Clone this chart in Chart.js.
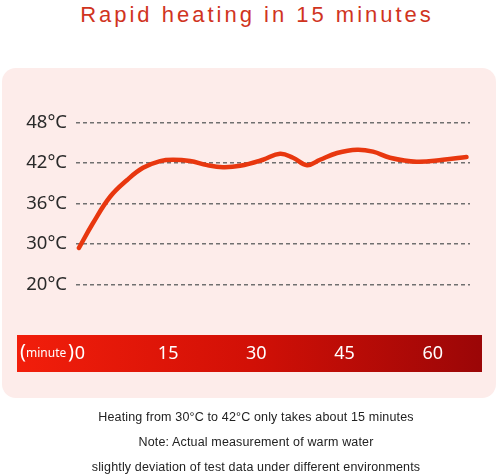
<!DOCTYPE html>
<html>
<head>
<meta charset="utf-8">
<script src="https://cdn.jsdelivr.net/npm/chart.js@4/dist/chart.umd.min.js"></script>
<style>
  html, body { margin: 0; padding: 0; background: #fff; }
  #wrap { position: relative; width: 500px; height: 474px; overflow: hidden; }
  #title {
    position: absolute; left: 0; top: 2px; width: 500px; text-align: center;
    box-sizing: border-box; padding-left: 14px;
    font: 22px "Liberation Sans", Arial, sans-serif; letter-spacing: 3px;
    color: #d0341e;
  }
  #panel {
    position: absolute; left: 2px; top: 68px; width: 494px; height: 330px;
    border-radius: 14px; background: #fdecea;
  }
  #chartCanvas { position: absolute; left: 0; top: 0; }
  .note {
    position: absolute; left: 0; width: 500px; text-align: center;
    box-sizing: border-box; padding-left: 12px;
    font: 12.5px "Liberation Sans", Arial, sans-serif; letter-spacing: 0.15px;
    color: #222;
  }
</style>
</head>
<body>
<div id="wrap">
  <div id="title">Rapid heating in 15 minutes</div>
  <div id="panel"></div>
  <canvas id="chartCanvas" width="500" height="474"></canvas>
  <div class="note" style="top:410px">Heating from 30°C to 42°C only takes about 15 minutes</div>
  <div class="note" style="top:435px">Note: Actual measurement of warm water</div>
  <div class="note" style="top:460px">slightly deviation of test data under different environments</div>
</div>
<script>
// ===============================
// 1. 数据
// ===============================
const minutes = [0, 2.4, 5.3, 8.2, 10.9, 13.8, 16.0, 18.9, 21.8, 24.5, 27.4, 31.3, 34.2,
  36.4, 38.8, 41.0, 43.9, 47.3, 50.0, 52.9, 57.4, 61.9, 65.9];
const temps = [29.4, 33.1, 37.0, 39.5, 41.3, 42.3, 42.5, 42.3, 41.7, 41.4, 41.6, 42.5, 43.4,
  42.8, 41.7, 42.5, 43.5, 44.0, 43.7, 42.8, 42.2, 42.5, 42.9];

// y 轴刻度（原图 20°C 与 30°C 间距与其它相同）
const yTickValues = [24, 30, 36, 42, 48];
const yTickLabels = ["20°C", "30°C", "36°C", "42°C", "48°C"];

const xTickValues = [0, 15, 30, 45, 60];
const xTickLabels = ["0", "15", "30", "45", "60"];

const points = minutes.map((m, i) => ({ x: m, y: temps[i] }));

// ===============================
// 2. 底部红色时间条
// ===============================
const minuteBand = {
  id: "minuteBand",
  afterDraw(chart) {
    const c = chart.ctx;
    const xs = chart.scales.x;
    const top = 335, h = 37, left = 17, right = 482;

    c.save();
    const g = c.createLinearGradient(left, 0, right, 0);
    g.addColorStop(0, "#f21e0b");
    g.addColorStop(0.5, "#d21006");
    g.addColorStop(1, "#9b0607");
    c.fillStyle = g;
    c.fillRect(left, top, right - left, h);

    c.fillStyle = "#fff";
    c.textBaseline = "middle";
    c.textAlign = "center";
    c.font = '18px "Noto Sans"';
    xTickValues.forEach((v, i) => {
      c.fillText(xTickLabels[i], xs.getPixelForValue(v) + 1, top + h / 2);
    });

    c.textAlign = "left";
    c.font = '20px "Noto Sans"';
    c.fillText("(", 20, top + h / 2 - 1);
    c.fillText(")", 68, top + h / 2 - 1);
    c.font = '12px "Noto Sans"';
    c.fillText("minute", 26, top + h / 2);
    c.restore();
  }
};

// ===============================
// 3. 折线图
// ===============================
const ctx = document.getElementById("chartCanvas").getContext("2d");

new Chart(ctx, {
  type: "line",
  data: {
    datasets: [{
      data: points,
      borderColor: "#e8370f",
      borderWidth: 4.5,
      borderCapStyle: "round",
      tension: 0.4,
      pointRadius: 0,
      fill: false
    }]
  },
  options: {
    responsive: false,
    animation: false,
    devicePixelRatio: 1,
    layout: { padding: { left: 0, right: 30, top: 116, bottom: 183 } },
    plugins: { legend: { display: false }, tooltip: { enabled: false } },
    scales: {
      x: {
        type: "linear",
        min: -0.5,
        max: 66.5,
        display: false
      },
      y: {
        type: "linear",
        min: 23,
        max: 49,
        afterFit: s => { s.width = 76; },
        afterBuildTicks: s => { s.ticks = yTickValues.map(v => ({ value: v })); },
        ticks: {
          padding: 9,
          color: "#2a2a2a",
          font: { family: "Noto Sans", size: 18.5 },
          callback: v => yTickLabels[yTickValues.indexOf(v)]
        },
        grid: { color: "#707070", lineWidth: 1.5, drawTicks: false },
        border: { display: false, dash: [4, 3] }
      }
    }
  },
  plugins: [minuteBand]
});
</script>
</body>
</html>
